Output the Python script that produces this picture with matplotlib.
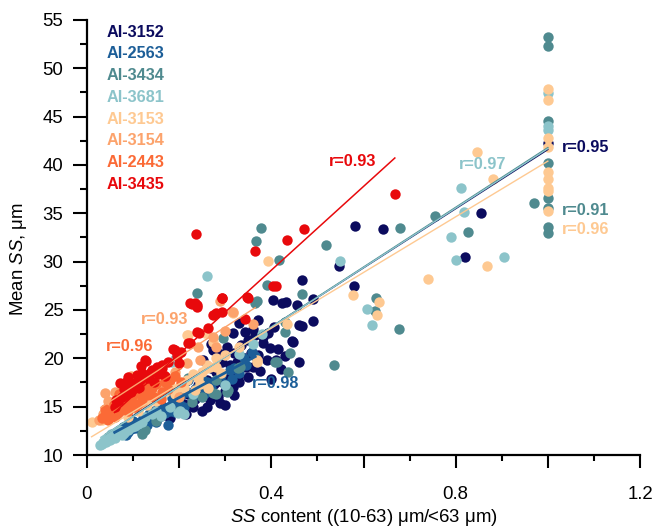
import matplotlib
matplotlib.use("Agg")
import matplotlib.pyplot as plt
import numpy as np
from matplotlib.ticker import MultipleLocator

plt.rcParams['font.family'] = ['Liberation Sans', 'DejaVu Sans']
plt.rcParams['mathtext.fontset'] = 'custom'
plt.rcParams['mathtext.rm'] = 'Liberation Sans'
plt.rcParams['mathtext.it'] = 'Liberation Sans:italic'

# ---------------- data ----------------
series_names = ['AI-3152', 'AI-2563', 'AI-3434', 'AI-3681', 'AI-3153', 'AI-3154', 'AI-2443', 'AI-3435']
series_colors = ['#0b0b5e', '#1c5e98', '#4f8a8f', '#8cc4ca', '#fec992', '#fca36c', '#fb6a36', '#e8090c']

pts_3152 = [(0.137,14.0),(0.15,14.6),(0.169,14.1),(0.173,14.3),(0.198,14.8),(0.21,15.3),(0.23,15.0),(0.249,14.5),
            (0.245,16.4),(0.267,15.7),(0.285,16.0),(0.289,15.35),(0.30,16.6),(0.22,16.3),(0.24,17.2),(0.26,17.8),
            (0.292,17.6),(0.314,18.3),(0.317,17.05),(0.33,17.5),(0.35,18.1),(0.30,18.2),(0.328,18.1),(0.317,18.8),
            (0.292,19.65),(0.252,19.8),(0.27,19.0),(0.361,19.1),(0.39,19.8),(0.41,19.8),(0.461,19.6),(0.34,20.0),
            (0.274,20.9),(0.303,21.2),(0.32,20.5),(0.383,21.55),(0.397,21.1),(0.35,21.9),(0.317,22.6),(0.343,22.75),
            (0.383,22.2),(0.36,23.0),(0.444,21.8),(0.446,21.7),(0.466,23.3),(0.491,23.9),(0.46,23.4),(0.404,26.0),
            (0.423,25.75),(0.432,25.86),(0.455,25.5),(0.466,28.1),(0.49,26.1),(0.58,27.5),(0.547,29.6),(0.582,33.7),
            (0.642,33.4),(0.82,30.5),(0.854,35.0),(1.0,42.3),(0.40,17.9),(0.42,18.9),(0.27,21.5),(0.31,19.3),
            (0.2,16.0),(0.16,15.2),(0.37,24.0),(0.33,23.7),(0.18,13.8),(0.19,15.6),(0.215,14.2),(0.235,15.8),
            (0.255,16.9),(0.275,17.3),(0.28,18.6),(0.305,17.9),(0.325,19.6),(0.345,19.1),(0.355,20.6),(0.37,20.3),
            (0.375,18.7),(0.392,22.6),(0.405,23.2),(0.415,21.0),(0.43,20.2),(0.335,21.4),(0.365,22.4),(0.29,20.4),
            (0.26,15.0),(0.3,15.2),(0.32,16.2)]
pts_2563 = [(0.06,12.0),(0.068,12.2),(0.078,12.9),(0.09,12.4),(0.104,12.75),(0.11,13.3),(0.122,13.8),(0.13,13.1),
            (0.14,13.6),(0.155,14.8),(0.16,14.0),(0.176,13.1),(0.18,14.6),(0.184,15.9),(0.195,15.2),(0.2,15.4),
            (0.213,17.6),(0.216,16.5),(0.22,17.8),(0.23,16.0),(0.24,17.0),(0.256,16.4),(0.27,16.9),(0.28,17.8),
            (0.29,18.3),(0.3,17.3),(0.31,18.8),(0.32,19.0),(0.33,18.5),(0.346,19.3),(0.357,20.7),(0.365,20.2),
            (0.25,17.9),(0.19,14.4),(0.1,13.5),(0.15,13.4),(0.12,12.4),(0.09,13.0),(0.072,12.6),(0.085,12.1),
            (0.095,12.7),(0.115,12.9),(0.135,14.2),(0.145,14.6),(0.165,15.0),(0.17,14.3),(0.205,16.2),(0.21,15.0),
            (0.235,16.8),(0.26,17.5),(0.315,17.9),(0.34,20.0)]
pts_3434 = [(0.05,11.8),(0.08,12.5),(0.119,12.2),(0.125,12.6),(0.15,13.5),(0.2,14.6),(0.227,15.5),(0.25,16.0),
            (0.274,16.4),(0.28,16.3),(0.303,16.5),(0.307,16.7),(0.281,17.75),(0.328,19.0),(0.332,19.1),(0.408,19.65),
            (0.412,19.65),(0.437,18.6),(0.44,20.5),(0.296,22.1),(0.43,22.75),(0.43,23.8),(0.365,25.7),(0.368,25.9),
            (0.39,27.6),(0.466,26.7),(0.238,26.8),(0.378,33.45),(0.367,32.1),(0.417,30.2),(0.519,31.7),
            (0.679,33.45),(0.627,26.2),(0.625,24.9),(0.676,23.0),(0.536,19.3),(0.755,34.75),(0.826,33.04),(0.97,36.1),
            (1.0,53.2),(1.0,52.3),(1.0,44.5),(1.0,40.2),(1.0,35.5),(1.0,33.6),(1.0,33.0),(1.0,36.6),(0.22,18.0),
            (0.19,16.6)]
pts_3681 = [(0.028,11.0),(0.035,11.3),(0.04,11.6),(0.046,11.9),(0.053,12.2),(0.06,11.8),(0.07,12.6),(0.08,12.3),
            (0.097,12.9),(0.11,13.2),(0.126,13.96),(0.14,14.2),(0.16,14.0),(0.18,15.0),(0.198,14.3),(0.202,14.5),
            (0.23,16.3),(0.184,19.65),(0.191,19.9),(0.26,28.5),(0.3,17.2),(0.33,20.4),(0.36,21.5),(0.38,22.5),
            (0.548,30.07),(0.608,25.1),(0.619,23.4),(0.812,37.6),(0.818,35.1),(0.789,32.5),(0.801,30.2),
            (0.904,30.5),(1.0,47.4),(1.0,44.0),(1.0,43.6),(0.21,14.2),(0.032,11.1),(0.042,11.3),(0.05,11.5),
            (0.058,12.0),(0.065,12.3),(0.075,12.1),(0.088,12.6),(0.105,13.0),(0.12,13.4),(0.15,14.5)]
pts_3153 = [(0.01,13.45),(0.032,13.6),(0.05,14.2),(0.07,14.8),(0.09,13.96),(0.1,15.3),(0.12,15.8),(0.14,16.5),
            (0.16,16.0),(0.18,17.2),(0.2,17.0),(0.216,17.75),(0.234,16.7),(0.263,16.9),(0.24,18.0),(0.245,17.3),
            (0.25,18.6),(0.26,19.0),(0.26,19.3),(0.267,19.1),(0.281,19.1),(0.29,18.5),(0.202,20.5),(0.216,22.4),
            (0.22,22.4),(0.256,22.6),(0.274,21.7),(0.314,24.8),(0.317,24.65),(0.368,19.65),(0.368,19.8),
            (0.433,23.6),(0.393,30.07),(0.577,26.5),(0.634,25.86),(0.629,24.45),(0.741,28.2),(0.867,29.6),
            (0.846,41.3),(0.88,38.5),(1.0,47.9),(1.0,46.7),(1.0,42.8),(1.0,41.9),(1.0,39.3),(1.0,38.6),(1.0,37.6),
            (1.0,35.2),(1.0,37.3),(0.3,20.3),(0.33,21.2),(0.11,14.6),(0.13,15.2),(0.15,15.6),(0.17,16.5),
            (0.19,16.3),(0.21,16.9),(0.23,18.4),(0.28,20.0)]
pts_3154 = [(0.025,13.6),(0.035,14.2),(0.039,16.4),(0.05,15.0),(0.055,14.5),(0.061,16.5),(0.068,16.4),(0.075,15.7),
            (0.086,17.4),(0.09,17.3),(0.1,16.2),(0.11,16.8),(0.13,17.6),(0.15,18.0),(0.17,17.0),(0.2,16.0),
            (0.216,19.5),(0.245,19.8),(0.274,22.2),(0.281,21.2),(0.289,25.9),(0.317,24.8),(0.361,23.6),(0.24,21.2),
            (0.3,22.8),(0.19,18.6),(0.12,15.5),(0.045,15.6),(0.08,16.0),(0.095,18.2),(0.14,17.1),(0.165,18.4)]
pts_2443 = [(0.032,13.8),(0.039,14.1),(0.045,13.6),(0.05,14.0),(0.055,14.6),(0.06,13.9),(0.065,15.2),(0.075,14.65),
            (0.08,15.6),(0.09,15.0),(0.097,15.5),(0.1,16.2),(0.11,15.3),(0.115,16.4),(0.126,17.1),(0.133,16.2),
            (0.14,16.9),(0.15,17.3),(0.162,16.5),(0.169,17.6),(0.18,17.8),(0.19,18.2),(0.205,17.5),(0.07,16.3),
            (0.085,16.0),(0.12,15.8),(0.16,15.8),(0.04,14.8),(0.058,15.3),(0.068,14.3),(0.088,14.6),(0.105,15.0),
            (0.122,16.7),(0.145,16.0),(0.175,16.8)]
pts_3435 = [(0.06,15.0),(0.064,15.7),(0.068,15.5),(0.075,16.0),(0.072,17.4),(0.08,16.8),(0.09,18.1),(0.1,17.0),
            (0.104,17.4),(0.108,18.3),(0.115,17.8),(0.126,19.8),(0.129,19.75),(0.137,18.45),(0.14,18.8),(0.145,17.6),
            (0.151,19.1),(0.162,19.3),(0.162,19.0),(0.17,18.2),(0.187,21.0),(0.191,20.9),(0.205,20.7),(0.22,21.55),
            (0.224,21.55),(0.238,22.75),(0.242,22.6),(0.263,23.1),(0.274,24.5),(0.281,24.65),(0.292,24.8),
            (0.343,24.1),(0.224,25.7),(0.234,25.7),(0.238,25.3),(0.227,25.6),(0.239,25.5),(0.292,26.2),(0.294,26.2),
            (0.348,26.3),(0.35,26.2),(0.404,27.5),(0.41,27.5),(0.237,32.9),(0.365,31.1),(0.433,32.2),(0.47,33.4),
            (0.668,36.97),(0.2,19.5),(0.12,18.5),(0.095,16.5),(0.085,17.6),(0.112,16.9),(0.132,18.0),(0.155,18.4),
            (0.175,19.6),(0.195,20.2),(0.118,19.2),(0.083,16.2)]
series_points = [pts_3152, pts_2563, pts_3434, pts_3681, pts_3153, pts_3154, pts_2443, pts_3435]

# regression lines
fit_x_start = [0.10, 0.06, 0.04, 0.03, 0.01, 0.03, 0.03, 0.06]
fit_x_end   = [1.00, 0.365, 1.00, 1.00, 1.00, 0.365, 0.205, 0.668]
fit_slope   = [30.6, 25.7, 30.9, 30.8, 28.8, 30.8, 30.0, 43.3]
fit_icept   = [11.0, 10.8, 10.9, 10.9, 11.6, 14.0, 12.8, 11.8]
fit_width   = [1.0, 2.0, 1.0, 1.0, 1.0, 1.0, 1.0, 1.1]

r_texts  = ['r=0.95', 'r=0.98', 'r=0.91', 'r=0.97', 'r=0.96', 'r=0.93', 'r=0.96', 'r=0.93']
r_x      = [1.030, 0.357, 1.030, 0.808, 1.030, 0.117, 0.0405, 0.524]
r_y      = [41.8, 17.4, 35.3, 40.0, 33.35, 24.0, 21.2, 40.35]

# ---------------- plot ----------------
fig = plt.figure(figsize=(6.55, 5.30), dpi=100)
ax = fig.add_axes([87/655, 75/530, 553/655, 435/530])

for pts, col in zip(series_points, series_colors):
    arr = np.array(pts)
    ax.scatter(arr[:, 0], arr[:, 1], s=56, color=col, linewidths=0, zorder=2, clip_on=False)

for i, col in enumerate(series_colors):
    xs = np.array([fit_x_start[i], fit_x_end[i]])
    ax.plot(xs, fit_icept[i] + fit_slope[i] * xs, color=col, lw=fit_width[i], zorder=3)

for i, col in enumerate(series_colors):
    ax.text(r_x[i], r_y[i], r_texts[i], color=col, fontsize=11.7, fontweight='bold',
            ha='left', va='center', zorder=4)

for i, (name, col) in enumerate(zip(series_names, series_colors)):
    ax.text(0.036, 0.972 - i * 0.0499, name, transform=ax.transAxes, color=col,
            fontsize=11.7, fontweight='bold', ha='left', va='center')

ax.set_xlim(0, 1.2)
ax.set_ylim(10, 55)
for s in ['top', 'right']:
    ax.spines[s].set_visible(False)
for s in ['left', 'bottom']:
    ax.spines[s].set_linewidth(1.6)

ax.xaxis.set_major_locator(MultipleLocator(0.2))
ax.xaxis.set_minor_locator(MultipleLocator(0.1))
ax.set_xticklabels([('0' if abs(v) < 1e-9 else f'{v:g}') if round(v / 0.4, 6) == int(round(v / 0.4)) else ''
                    for v in ax.get_xticks()])
ax.yaxis.set_major_locator(MultipleLocator(5))
ax.yaxis.set_minor_locator(MultipleLocator(2.5))

ax.tick_params(axis='x', which='major', length=9, width=1.5, pad=13, labelsize=13.4)
ax.tick_params(axis='x', which='minor', length=4.5, width=1.5)
ax.tick_params(axis='y', which='major', length=10, width=1.5, pad=7, labelsize=13.4)
ax.tick_params(axis='y', which='minor', length=5, width=1.5)

ax.set_xlabel('$\\mathit{SS}$ content ((10-63) μm/<63 μm)', fontsize=13.4, labelpad=3)
ax.set_ylabel('Mean $\\mathit{SS}$, μm', fontsize=13.4)
ax.yaxis.set_label_coords(-0.105, 0.45)

fig.savefig('out.png', dpi=100)
